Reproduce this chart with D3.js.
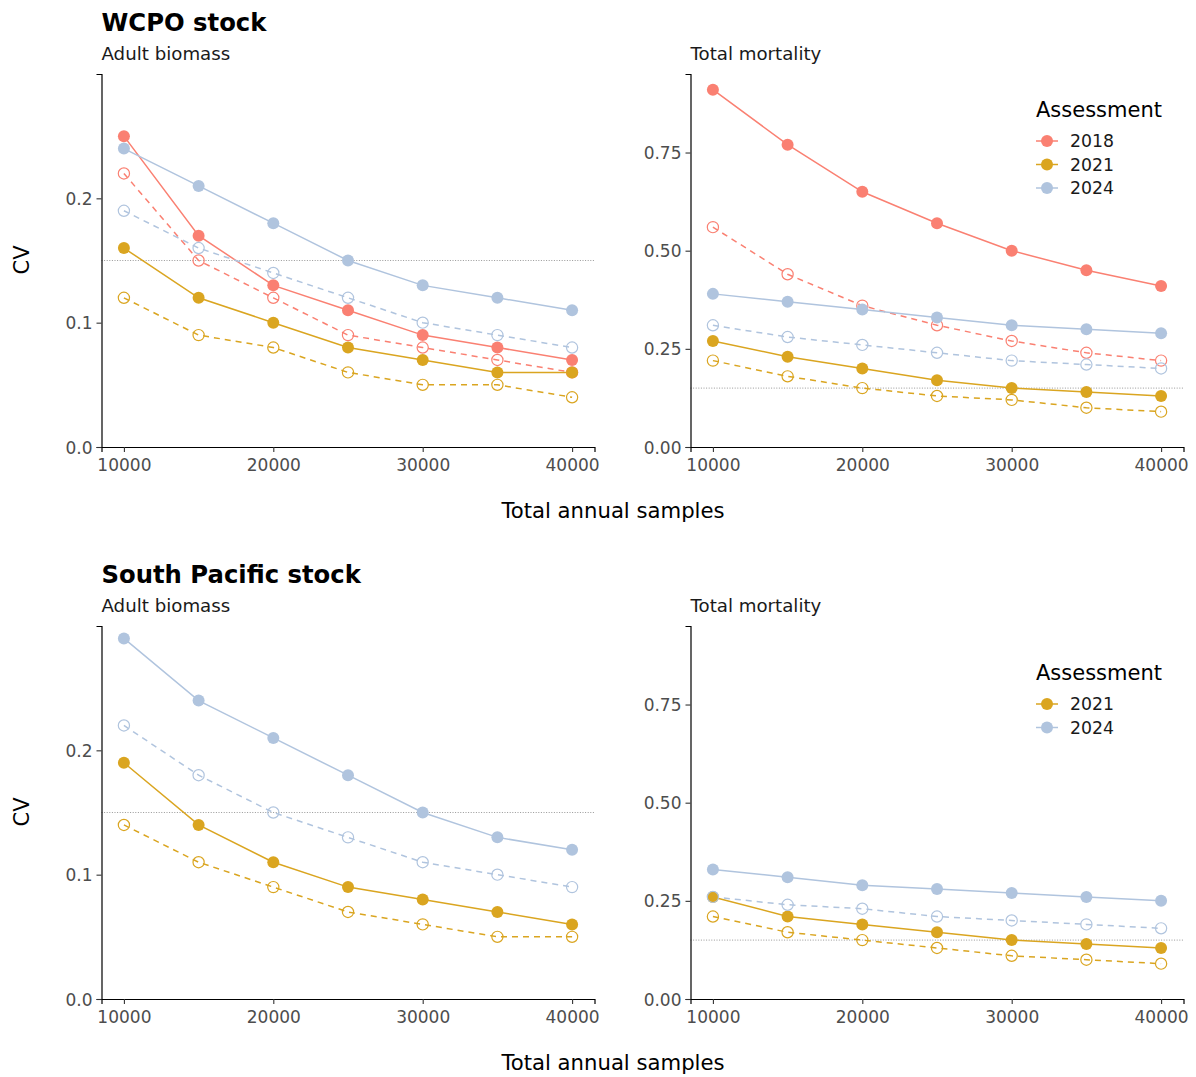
<!DOCTYPE html>
<html>
<head>
<meta charset="utf-8">
<script src="https://cdn.jsdelivr.net/npm/d3@7"></script>
<style>
  body { margin: 0; background: #fff; }
  text { font-family: "DejaVu Sans", sans-serif; }
</style>
</head>
<body>
<div class="chart"></div>
<script>
const samples = [10000, 15000, 20000, 25000, 30000, 35000, 40000];
const years = ['2018', '2021', '2024'];

// WCPO stock, adult biomass (solid = filled points, b = dashed / open points)
const wcpoBiomass2018 = [0.25, 0.17, 0.13, 0.11, 0.09, 0.08, 0.07];
const wcpoBiomass2018b = [0.22, 0.15, 0.12, 0.09, 0.08, 0.07, 0.06];
const wcpoBiomass2021 = [0.16, 0.12, 0.10, 0.08, 0.07, 0.06, 0.06];
const wcpoBiomass2021b = [0.12, 0.09, 0.08, 0.06, 0.05, 0.05, 0.04];
const wcpoBiomass2024 = [0.24, 0.21, 0.18, 0.15, 0.13, 0.12, 0.11];
const wcpoBiomass2024b = [0.19, 0.16, 0.14, 0.12, 0.10, 0.09, 0.08];

// WCPO stock, total mortality
const wcpoMortality2018 = [0.91, 0.77, 0.65, 0.57, 0.50, 0.45, 0.41];
const wcpoMortality2018b = [0.56, 0.44, 0.36, 0.31, 0.27, 0.24, 0.22];
const wcpoMortality2021 = [0.27, 0.23, 0.20, 0.17, 0.15, 0.14, 0.13];
const wcpoMortality2021b = [0.22, 0.18, 0.15, 0.13, 0.12, 0.10, 0.09];
const wcpoMortality2024 = [0.39, 0.37, 0.35, 0.33, 0.31, 0.30, 0.29];
const wcpoMortality2024b = [0.31, 0.28, 0.26, 0.24, 0.22, 0.21, 0.20];

// South Pacific stock, adult biomass
const spBiomass2021 = [0.19, 0.14, 0.11, 0.09, 0.08, 0.07, 0.06];
const spBiomass2021b = [0.14, 0.11, 0.09, 0.07, 0.06, 0.05, 0.05];
const spBiomass2024 = [0.29, 0.24, 0.21, 0.18, 0.15, 0.13, 0.12];
const spBiomass2024b = [0.22, 0.18, 0.15, 0.13, 0.11, 0.10, 0.09];

// South Pacific stock, total mortality
const spMortality2021 = [0.26, 0.21, 0.19, 0.17, 0.15, 0.14, 0.13];
const spMortality2021b = [0.21, 0.17, 0.15, 0.13, 0.11, 0.10, 0.09];
const spMortality2024 = [0.33, 0.31, 0.29, 0.28, 0.27, 0.26, 0.25];
const spMortality2024b = [0.26, 0.24, 0.23, 0.21, 0.20, 0.19, 0.18];

const xTicks = [10000, 20000, 30000, 40000];
const biomassTicks = [0, 0.1, 0.2];
const mortalityTicks = [0, 0.25, 0.5, 0.75];
const target = 0.15;

const colors = { '2018': '#FA8072', '2021': '#DAA520', '2024': '#B0C4DE' };

const width = 1196;
const height = 1077;

const svg = d3
  .select('.chart')
  .append('svg')
  .attr('width', width)
  .attr('height', height);

const panels = [
  {
    left: 101.5, top: 74, bottom: 447, title: 'WCPO stock', sub: 'Adult biomass',
    ymax: 0.3, ticks: biomassTicks, fmt: '.1f', legend: null,
    series: [
      ['2018', wcpoBiomass2018, wcpoBiomass2018b],
      ['2021', wcpoBiomass2021, wcpoBiomass2021b],
      ['2024', wcpoBiomass2024, wcpoBiomass2024b]
    ]
  },
  {
    left: 690.5, top: 74, bottom: 447, title: null, sub: 'Total mortality',
    ymax: 0.95, ticks: mortalityTicks, fmt: '.2f', legend: ['2018', '2021', '2024'],
    series: [
      ['2018', wcpoMortality2018, wcpoMortality2018b],
      ['2021', wcpoMortality2021, wcpoMortality2021b],
      ['2024', wcpoMortality2024, wcpoMortality2024b]
    ]
  },
  {
    left: 101.5, top: 626, bottom: 999, title: 'South Pacific stock', sub: 'Adult biomass',
    ymax: 0.3, ticks: biomassTicks, fmt: '.1f', legend: null,
    series: [
      ['2021', spBiomass2021, spBiomass2021b],
      ['2024', spBiomass2024, spBiomass2024b]
    ]
  },
  {
    left: 690.5, top: 626, bottom: 999, title: null, sub: 'Total mortality',
    ymax: 0.95, ticks: mortalityTicks, fmt: '.2f', legend: ['2021', '2024'],
    series: [
      ['2021', spMortality2021, spMortality2021b],
      ['2024', spMortality2024, spMortality2024b]
    ]
  }
];

const panelWidth = 493;

panels.forEach((p) => {
  const x = d3.scaleLinear().domain([8500, 41500]).range([p.left, p.left + panelWidth]);
  const y = d3.scaleLinear().domain([0, p.ymax]).range([p.bottom, p.top]);
  const g = svg.append('g');

  // reference line at the target CV
  g.append('line')
    .attr('x1', p.left)
    .attr('x2', p.left + panelWidth)
    .attr('y1', y(target))
    .attr('y2', y(target))
    .attr('stroke', '#8c8c8c')
    .attr('stroke-width', 0.9)
    .attr('stroke-dasharray', '1,1.6');

  const line = d3
    .line()
    .x((d, i) => x(samples[i]))
    .y((d) => y(d));

  // lines first, then points (like ggplot layers)
  p.series.forEach(([yr, solid, dashed]) => {
    g.append('path')
      .attr('d', line(dashed))
      .attr('fill', 'none')
      .attr('stroke', colors[yr])
      .attr('stroke-width', 1.5)
      .attr('stroke-dasharray', '6,5');
    g.append('path')
      .attr('d', line(solid))
      .attr('fill', 'none')
      .attr('stroke', colors[yr])
      .attr('stroke-width', 1.5);
  });

  p.series.forEach(([yr, solid, dashed]) => {
    g.selectAll(null)
      .data(dashed)
      .enter()
      .append('circle')
      .attr('cx', (d, i) => x(samples[i]))
      .attr('cy', (d) => y(d))
      .attr('r', 5.6)
      .attr('fill', 'none')
      .attr('stroke', colors[yr])
      .attr('stroke-width', 1.2);
    g.selectAll(null)
      .data(solid)
      .enter()
      .append('circle')
      .attr('cx', (d, i) => x(samples[i]))
      .attr('cy', (d) => y(d))
      .attr('r', 6)
      .attr('fill', colors[yr]);
  });

  // axes
  const xAxis = g
    .append('g')
    .attr('transform', `translate(0,${p.bottom})`)
    .call(d3.axisBottom(x).tickValues(xTicks).tickFormat(d3.format('d')).tickSizeOuter(0).tickSize(5).tickPadding(6.5));
  const yAxis = g
    .append('g')
    .attr('transform', `translate(${p.left},0)`)
    .call(d3.axisLeft(y).tickValues(p.ticks).tickFormat(d3.format(p.fmt)).tickSizeOuter(0).tickSize(5).tickPadding(4));

  [xAxis, yAxis].forEach((a) => {
    a.select('.domain').attr('stroke', '#000').attr('stroke-width', 1.2);
    a.selectAll('.tick line').attr('stroke', '#333').attr('stroke-width', 1.1);
    a.selectAll('.tick text')
      .attr('fill', '#4d4d4d')
      .style('font-size', '17px')
      .style('font-family', '"DejaVu Sans", sans-serif');
  });
  yAxis.selectAll('.tick text').attr('dy', '0.36em');

  // titles
  if (p.title) {
    svg.append('text')
      .attr('x', p.left)
      .attr('y', p.top - 43)
      .attr('font-size', 24.3)
      .attr('font-weight', 'bold')
      .attr('fill', '#000')
      .text(p.title);
  }
  svg.append('text')
    .attr('x', p.left)
    .attr('y', p.top - 14)
    .attr('font-size', 18.2)
    .attr('fill', '#1a1a1a')
    .text(p.sub);

  // legend
  if (p.legend) {
    const lx = 1036;
    const ly = p.top + (p.legend.length === 3 ? 35 : 46);
    svg.append('text')
      .attr('x', lx)
      .attr('y', ly + 7.5)
      .attr('font-size', 21)
      .attr('fill', '#000')
      .text('Assessment');
    p.legend.forEach((yr, i) => {
      const cy = ly + 32 + i * 23.5;
      svg.append('line')
        .attr('x1', lx).attr('x2', lx + 22)
        .attr('y1', cy).attr('y2', cy)
        .attr('stroke', colors[yr])
        .attr('stroke-width', 1.5);
      svg.append('circle')
        .attr('cx', lx + 11).attr('cy', cy).attr('r', 6)
        .attr('fill', colors[yr]);
      svg.append('text')
        .attr('x', lx + 34)
        .attr('y', cy + 6)
        .attr('font-size', 17.3)
        .attr('fill', '#1a1a1a')
        .text(yr);
    });
  }
});

// shared axis titles per row
[447, 999].forEach((b) => {
  svg.append('text')
    .attr('x', 613)
    .attr('y', b + 71)
    .attr('text-anchor', 'middle')
    .attr('font-size', 21.2)
    .attr('fill', '#000')
    .text('Total annual samples');
  svg.append('text')
    .attr('transform', `translate(29,${b - 187}) rotate(-90)`)
    .attr('text-anchor', 'middle')
    .attr('font-size', 21)
    .attr('fill', '#000')
    .text('CV');
});
</script>
</body>
</html>
